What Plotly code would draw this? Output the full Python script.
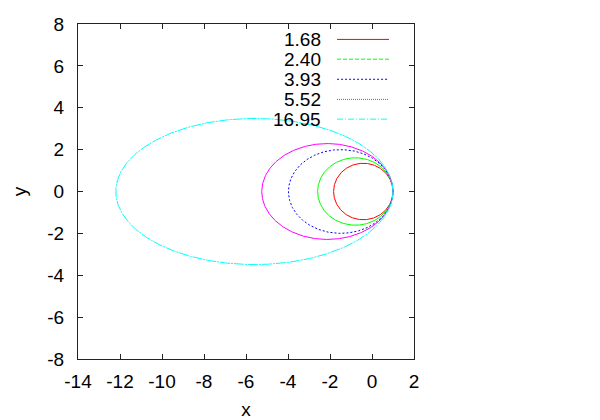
import numpy as np
import plotly.graph_objects as go

# Data
labels = ["1.68", "2.40", "3.93", "5.52", "16.95"]
x_left = [-1.83, -2.59, -3.98, -5.25, -12.20]   # left-most x of each orbit
x_right = [1.0, 1.0, 1.0, 1.0, 1.0]             # right-most x of each orbit
half_height = [1.35, 1.61, 2.00, 2.29, 3.49]    # semi-minor axis (max |y|)
colors = ["#ff0000", "#00ff00", "#0000ff", "#ff00ff", "#00ffff"]
key_dashes = ["solid", "4px,2px", "2px,2px", "1px,1px", "6px,2px,1px,2px"]
curve_dashes = ["solid", "solid", "2px,2px", "solid", "10px,1px,2px,1px"]

x_ticks = list(range(-14, 3, 2))
y_ticks = list(range(-8, 9, 2))

fig = go.Figure()
t = np.linspace(0, 2 * np.pi, 721)
for lab, xl, xr, b, c, d in zip(labels, x_left, x_right, half_height, colors, curve_dashes):
    cx = (xl + xr) / 2
    a = (xr - xl) / 2
    fig.add_trace(go.Scatter(
        x=cx + a * np.cos(t), y=b * np.sin(t), mode="lines", name=lab,
        line=dict(color=c, width=1, dash=d), showlegend=False, hoverinfo="skip"))

# gnuplot-style key: label text, then line sample
row_y = [0.954, 0.895, 0.835, 0.775, 0.716]
for lab, c, d, yy in zip(labels, colors, key_dashes, row_y):
    fig.add_annotation(x=0.729, y=yy, xref="paper", yref="paper", text=lab,
                       showarrow=False, xanchor="right", yanchor="middle",
                       font=dict(size=19, color="black"))
    fig.add_shape(type="line", xref="paper", yref="paper", x0=0.771, x1=0.9256,
                  y0=yy, y1=yy, line=dict(color=c, width=1, dash=d))

axis_common = dict(showgrid=False, zeroline=False, showline=True, mirror="ticks",
                   linecolor="#222222", linewidth=1, ticks="inside", ticklen=5,
                   tickcolor="#222222", tickfont=dict(size=19, color="black"),
                   automargin=False)
fig.update_xaxes(range=[-14, 2], tickvals=x_ticks, ticktext=[str(v) for v in x_ticks],
                 ticklabelstandoff=5,
                 title=dict(text="x", font=dict(size=19, color="black"), standoff=12),
                 **axis_common)
fig.update_yaxes(range=[-8, 8], tickvals=y_ticks, ticktext=[str(v) for v in y_ticks],
                 ticklabelstandoff=9,
                 title=dict(text="y", font=dict(size=19, color="black"), standoff=15),
                 **axis_common)
fig.update_layout(width=592, height=412, margin=dict(l=70, r=186, t=16, b=61),
                  paper_bgcolor="white", plot_bgcolor="white",
                  font=dict(family="Liberation Sans, Arial, sans-serif", size=19))
fig.write_html("out.html")
